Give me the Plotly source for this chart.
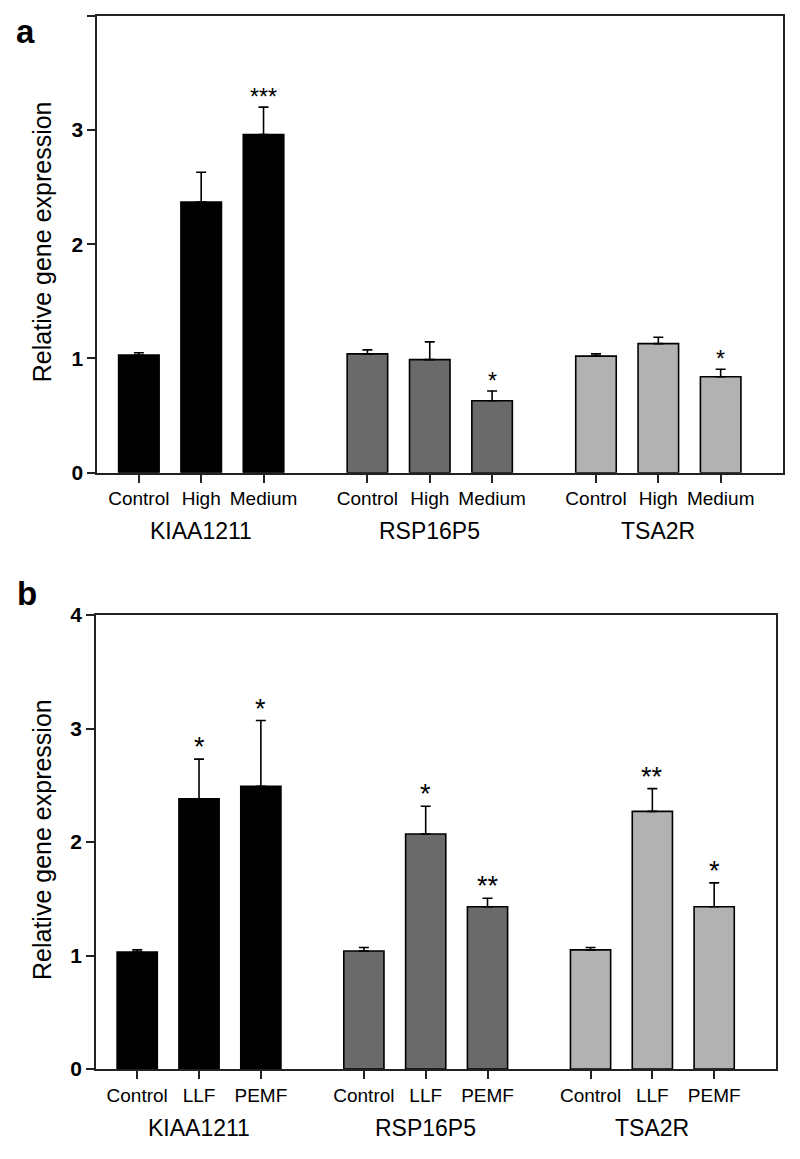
import plotly.graph_objects as go

# the page body adds an 8 px margin, so the figure is sized to fit the window
OFF = 8
W, H = 800 - OFF, 1159 - OFF

# ---------------- data ----------------
groups = ["KIAA1211", "RSP16P5", "TSA2R"]
group_colors = ["#000000", "#6a6a6a", "#b2b2b2"]

a_conditions = ["Control", "High", "Medium"]
a_kiaa_mean = [1.03, 2.37, 2.96]
a_kiaa_err = [0.02, 0.26, 0.24]
a_rsp_mean = [1.04, 0.99, 0.63]
a_rsp_err = [0.035, 0.155, 0.085]
a_tsa_mean = [1.02, 1.13, 0.84]
a_tsa_err = [0.02, 0.055, 0.065]
a_kiaa_sig = ["", "", "***"]
a_rsp_sig = ["", "", "*"]
a_tsa_sig = ["", "", "*"]

b_conditions = ["Control", "LLF", "PEMF"]
b_kiaa_mean = [1.03, 2.38, 2.49]
b_kiaa_err = [0.02, 0.35, 0.58]
b_rsp_mean = [1.04, 2.07, 1.43]
b_rsp_err = [0.03, 0.245, 0.075]
b_tsa_mean = [1.05, 2.27, 1.43]
b_tsa_err = [0.02, 0.20, 0.21]
b_kiaa_sig = ["", "*", "*"]
b_rsp_sig = ["", "*", "**"]
b_tsa_sig = ["", "**", "*"]

y_ticks = [0, 1, 2, 3, 4]
y_title = "Relative gene expression"

# ---------------- layout helpers ----------------
FONT = "Liberation Sans, Arial, Helvetica, sans-serif"
GAP = 2 / 3


def positions(g):
    return [g * (3 + GAP) + i for i in range(3)]


def px_x(p):
    return (p - OFF) / W


def px_y(p):
    return 1 - (p - OFF) / H


panels = [
    dict(label="a", conds=a_conditions,
         means=[a_kiaa_mean, a_rsp_mean, a_tsa_mean],
         errs=[a_kiaa_err, a_rsp_err, a_tsa_err],
         sigs=[a_kiaa_sig, a_rsp_sig, a_tsa_sig],
         xa="x", ya="y", xdom=(97.3, 783), ydom=(15.7, 472.7),
         label_pos=(25, 32), group_y=531, star_size=23),
    dict(label="b", conds=b_conditions,
         means=[b_kiaa_mean, b_rsp_mean, b_tsa_mean],
         errs=[b_kiaa_err, b_rsp_err, b_tsa_err],
         sigs=[b_kiaa_sig, b_rsp_sig, b_tsa_sig],
         xa="x2", ya="y2", xdom=(96, 776), ydom=(615, 1069),
         label_pos=(27, 593), group_y=1128, star_size=27),
]

fig = go.Figure()
annotations = []

for k, p in enumerate(panels):
    tickvals, ticktext = [], []
    for g in range(3):
        xs = positions(g)
        tickvals += xs
        ticktext += p["conds"]
        fig.add_trace(go.Bar(
            x=xs, y=p["means"][g], width=0.65,
            marker=dict(color=group_colors[g], line=dict(color="#000000", width=1.6)),
            error_y=dict(type="data", symmetric=False, array=p["errs"][g],
                         arrayminus=[0, 0, 0], color="#000000", thickness=1.6, width=5),
            xaxis=p["xa"], yaxis=p["ya"], showlegend=False, hoverinfo="skip",
        ))
        for i in range(3):
            if p["sigs"][g][i]:
                annotations.append(dict(
                    x=xs[i], y=p["means"][g][i] + p["errs"][g][i],
                    xref=p["xa"], yref=p["ya"], text=p["sigs"][g][i],
                    showarrow=False, yanchor="bottom", xanchor="center", yshift=-5,
                    font=dict(family=FONT, size=p["star_size"], color="#000000"),
                ))
        annotations.append(dict(
            x=xs[1], y=px_y(p["group_y"]), xref=p["xa"], yref="paper",
            text=groups[g], showarrow=False, xanchor="center", yanchor="middle",
            font=dict(family=FONT, size=23, color="#000000"),
        ))

    # panel letter
    annotations.append(dict(
        x=px_x(p["label_pos"][0]), y=px_y(p["label_pos"][1]), xref="paper", yref="paper",
        text="<b>%s</b>" % p["label"], showarrow=False, xanchor="center", yanchor="middle",
        font=dict(family=FONT, size=33, color="#000000"),
    ))
    # y title
    yc = (p["ydom"][0] + p["ydom"][1]) / 2
    annotations.append(dict(
        x=px_x(42), y=px_y(yc - 2), xref="paper", yref="paper", text=y_title,
        textangle=-90, showarrow=False, xanchor="center", yanchor="middle",
        font=dict(family=FONT, size=25, color="#000000"),
    ))

    xname = "xaxis" if k == 0 else "xaxis2"
    yname = "yaxis" if k == 0 else "yaxis2"
    fig.update_layout(**{
        xname: dict(
            domain=[px_x(p["xdom"][0]), px_x(p["xdom"][1])],
            anchor=p["ya"], range=[-GAP, 3 * (3 + GAP) - GAP],
            tickmode="array", tickvals=tickvals, ticktext=ticktext,
            ticks="outside", ticklen=8, tickwidth=1.8, tickcolor="#222222",
            showline=True, mirror=True, linecolor="#222222", linewidth=1.8,
            showgrid=False, zeroline=False, automargin=False,
            tickfont=dict(family=FONT, size=19, color="#000000"),
        ),
        yname: dict(
            domain=[px_y(p["ydom"][1]), px_y(p["ydom"][0])],
            anchor=p["xa"], range=[0, 4],
            tickmode="array", tickvals=y_ticks,
            ticks="outside", ticklen=8, tickwidth=1.8, tickcolor="#222222",
            showline=True, mirror=True, linecolor="#222222", linewidth=1.8,
            showgrid=False, zeroline=False, automargin=False,
            tickfont=dict(family=FONT, size=21, color="#000000", weight="bold"),
        ),
    })

fig.update_layout(
    width=W, height=H, margin=dict(l=0, r=0, t=0, b=0, autoexpand=False),
    paper_bgcolor="#ffffff", plot_bgcolor="#ffffff",
    barmode="overlay", annotations=annotations,
    font=dict(family=FONT, color="#000000"),
)

fig.write_html("out.html")
